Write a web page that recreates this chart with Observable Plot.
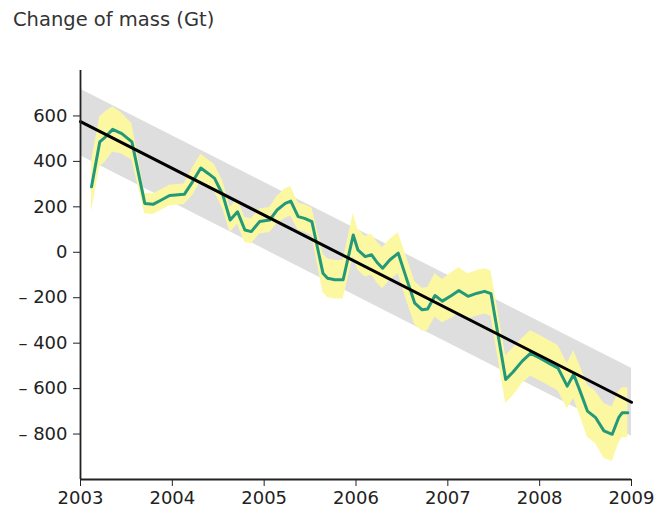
<!DOCTYPE html>
<html>
<head>
<meta charset="utf-8">
<script src="https://cdn.jsdelivr.net/npm/d3@7"></script>
<script src="https://cdn.jsdelivr.net/npm/@observablehq/plot@0.6"></script>
<style>
  body { margin: 0; background: #fff; }
  #title { font-family: "DejaVu Sans", sans-serif; font-size: 19.5px; color: #333; height: 40px; box-sizing: border-box; padding: 9px 0 0 13px; line-height: 22px; }
</style>
</head>
<body>
<div id="title">Change of mass (Gt)</div>
<div id="chart"></div>
<script>
// Monthly mass change (Gt)
const years = [2003.12, 2003.21, 2003.27, 2003.35, 2003.45, 2003.56, 2003.70, 2003.79, 2003.88, 2003.97,
  2004.13, 2004.22, 2004.31, 2004.39, 2004.46, 2004.55, 2004.63, 2004.71, 2004.79, 2004.86,
  2004.95, 2005.06, 2005.14, 2005.23, 2005.29, 2005.37, 2005.44, 2005.52, 2005.64, 2005.69,
  2005.77, 2005.86, 2005.97, 2006.02, 2006.10, 2006.17, 2006.23, 2006.29, 2006.37, 2006.46,
  2006.56, 2006.64, 2006.72, 2006.78, 2006.86, 2006.94, 2007.04, 2007.12, 2007.22, 2007.32,
  2007.40, 2007.47, 2007.63, 2007.71, 2007.81, 2007.90, 2008.00, 2008.11, 2008.20, 2008.30,
  2008.37, 2008.44, 2008.52, 2008.61, 2008.70, 2008.79, 2008.86, 2008.90, 2008.96];
const mass = [288, 486, 507, 541, 522, 486, 215, 211, 230, 250,
  255, 310, 371, 347, 325, 252, 142, 178, 98, 91,
  135, 142, 186, 215, 225, 157, 149, 135, -92, -114,
  -121, -121, 76, 11, -19, -11, -45, -70, -33, -4,
  -128, -224, -253, -250, -190, -215, -190, -168, -194, -180,
  -172, -182, -560, -527, -479, -445, -465, -490, -510, -589,
  -538, -611, -699, -728, -786, -801, -728, -706, -706];
const uncertainty = [110, 110, 110, 100, 90, 80, 45, 45, 45, 45,
  45, 60, 60, 60, 60, 60, 55, 55, 55, 55,
  55, 55, 60, 65, 65, 60, 60, 60, 85, 85,
  85, 85, 95, 90, 90, 90, 90, 90, 90, 90,
  95, 95, 95, 95, 95, 95, 100, 100, 100, 100,
  100, 100, 105, 105, 100, 100, 100, 100, 100, 100,
  105, 110, 115, 115, 120, 120, 115, 110, 110];

// Linear trend and its band
const trendYears = [2003, 2009];
const trendValues = [575, -660];
const bandUpper = [717, -510];
const bandLower = [425, -810];

const xTicks = [2003, 2004, 2005, 2006, 2007, 2008, 2009];
const yTicks = [600, 400, 200, 0, -200, -400, -600, -800];

const series = years.map((t, i) => ({t, v: mass[i], lo: mass[i] - uncertainty[i], hi: mass[i] + uncertainty[i]}));
const trend = trendYears.map((t, i) => ({t, v: trendValues[i], lo: bandLower[i], hi: bandUpper[i]}));

const chart = Plot.plot({
  width: 661,
  height: 487,
  marginLeft: 80,
  marginRight: 30,
  marginTop: 30,
  marginBottom: 48,
  style: {fontFamily: "DejaVu Sans, sans-serif", fontSize: "18px", color: "#222", background: "#fff"},
  x: {domain: [2003, 2009], ticks: xTicks, tickFormat: d => String(d), tickSize: 7, tickPadding: 5, label: null},
  y: {domain: [-1000, 800], ticks: yTicks, tickFormat: d => d < 0 ? "\u2013 " + Math.abs(d) : String(d), tickSize: 7, tickPadding: 6, label: null},
  marks: [
    Plot.areaY(trend, {x: "t", y1: "lo", y2: "hi", fill: "#dedede"}),
    Plot.areaY(series, {x: "t", y1: "lo", y2: "hi", fill: "#fcf8a2"}),
    Plot.line(series, {x: "t", y: "v", stroke: "#24997a", strokeWidth: 3, strokeLinejoin: "round"}),
    Plot.line(trend, {x: "t", y: "v", stroke: "#000", strokeWidth: 3}),
    Plot.ruleX([2003], {stroke: "#222", strokeWidth: 1.8}),
    Plot.ruleY([-1000], {stroke: "#222", strokeWidth: 1.8})
  ]
});
document.getElementById("chart").appendChild(chart);
</script>
</body>
</html>
